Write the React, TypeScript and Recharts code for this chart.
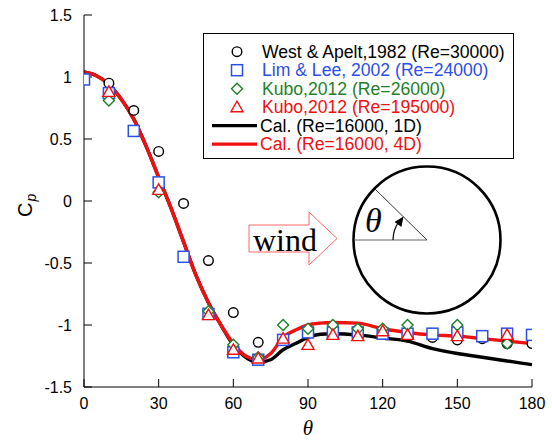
import { ComposedChart, Line, Scatter, XAxis, YAxis, Legend, Customized } from 'recharts';

// axis ticks
const xTicks = [0, 30, 60, 90, 120, 150, 180];
const yTicks = [-1.5, -1, -0.5, 0, 0.5, 1, 1.5];

// West & Apelt, 1982 (Re=30000)
const westAngle = [10, 20, 30, 40, 50, 60, 70, 80, 90, 100, 110, 120, 130, 140, 150, 160, 170, 180];
const westCp = [0.95, 0.73, 0.4, -0.02, -0.48, -0.9, -1.14, -1.12, -1.06, -1.05, -1.04, -1.07, -1.07, -1.1, -1.12, -1.11, -1.15, -1.15];

// Lim & Lee, 2002 (Re=24000)
const limAngle = [0, 10, 20, 30, 40, 50, 60, 70, 80, 90, 100, 110, 120, 130, 140, 150, 160, 170, 180];
const limCp = [0.98, 0.87, 0.565, 0.15, -0.45, -0.91, -1.22, -1.28, -1.12, -1.06, -1.06, -1.06, -1.07, -1.07, -1.07, -1.06, -1.09, -1.07, -1.08];

// Kubo, 2012 (Re=26000)
const kuboLowAngle = [10, 30, 50, 60, 70, 80, 90, 100, 110, 120, 130, 150, 170];
const kuboLowCp = [0.81, 0.07, -0.89, -1.16, -1.26, -1.0, -1.03, -1.0, -1.03, -1.03, -1.0, -1.0, -1.15];

// Kubo, 2012 (Re=195000)
const kuboHighAngle = [10, 30, 50, 60, 70, 80, 90, 100, 110, 120, 130, 150, 170];
const kuboHighCp = [0.88, 0.09, -0.92, -1.2, -1.27, -1.11, -1.16, -1.08, -1.09, -1.05, -1.08, -1.09, -1.08];

// calculations (Re=16000)
const calAngle = [0, 5, 10, 15, 20, 25, 30, 35, 40, 45, 50, 55, 60, 65, 70, 75, 80, 85, 90, 95, 100, 110, 120, 130, 140, 150, 160, 170, 180];
const cal1D = [1.04, 1.01, 0.94, 0.82, 0.66, 0.44, 0.19, -0.06, -0.33, -0.6, -0.82, -1.0, -1.16, -1.26, -1.3, -1.28, -1.2, -1.15, -1.1, -1.075, -1.07, -1.08, -1.105, -1.13, -1.19, -1.23, -1.26, -1.29, -1.32];
const cal4D = [1.04, 1.01, 0.94, 0.82, 0.66, 0.44, 0.19, -0.06, -0.33, -0.6, -0.82, -1.0, -1.15, -1.25, -1.28, -1.23, -1.1, -1.04, -1.0, -0.985, -0.98, -0.985, -1.03, -1.06, -1.08, -1.09, -1.11, -1.13, -1.15];

const toPoints = (xs: number[], ys: number[]) => xs.map((x, i) => ({ x, y: ys[i] }));

const BLUE = '#2a50ea';
const GREEN = '#1f7f2a';
const RED = '#f01010';
const FONT = '"Liberation Sans", Arial, sans-serif';
const SERIF = '"Liberation Serif", "Times New Roman", serif';

const circleShape = (p: any) => (
  <circle cx={p.cx} cy={p.cy} r={4.8} fill="#fff" stroke="#000" strokeWidth={1.4} />
);
const squareShape = (p: any) => (
  <rect x={p.cx - 5.5} y={p.cy - 5.5} width={11} height={11} fill="#fff" stroke={BLUE} strokeWidth={1.5} />
);
const diamondShape = (p: any) => (
  <path
    d={`M${p.cx},${p.cy - 5.5}L${p.cx + 5.5},${p.cy}L${p.cx},${p.cy + 5.5}L${p.cx - 5.5},${p.cy}Z`}
    fill="#fff"
    stroke={GREEN}
    strokeWidth={1.4}
  />
);
const triangleShape = (p: any) => (
  <path
    d={`M${p.cx},${p.cy - 6}L${p.cx + 6},${p.cy + 4.5}L${p.cx - 6},${p.cy + 4.5}Z`}
    fill="#fff"
    stroke={RED}
    strokeWidth={1.4}
  />
);

const legendRows = [
  { label: 'West & Apelt,1982 (Re=30000)', color: '#000', shape: circleShape },
  { label: 'Lim & Lee, 2002 (Re=24000)', color: BLUE, shape: squareShape },
  { label: 'Kubo,2012 (Re=26000)', color: GREEN, shape: diamondShape },
  { label: 'Kubo,2012 (Re=195000)', color: RED, shape: triangleShape },
  { label: 'Cal. (Re=16000, 1D)', color: '#000', shape: null },
  { label: 'Cal. (Re=16000, 4D)', color: RED, shape: null },
];

const renderLegend = () => (
  <svg width={311} height={126} style={{ display: 'block' }}>
    <rect x={0.5} y={0.5} width={310} height={125} fill="#fff" stroke="#000" strokeWidth={1} />
    {legendRows.map((r, i) => {
      const y = 18.7 + i * 18.5;
      return (
        <g key={r.label}>
          {r.shape ? (
            r.shape({ cx: 34, cy: y })
          ) : (
            <line x1={9} x2={54} y1={y} y2={y} stroke={r.color} strokeWidth={3.2} />
          )}
          <text x={r.shape ? 59 : 57} y={y} dy="0.35em" fontFamily={FONT} fontSize={17.6} fill={r.color}>
            {r.label}
          </text>
        </g>
      );
    })}
  </svg>
);

// cylinder sketch with wind arrow, axis titles
const Sketch = () => (
  <g>
    <path d="M249,225 H309 V212 L337,238.5 L309,265 V252 H249 Z" fill="#fff" stroke="#f66" strokeWidth={1} />
    <text x={253} y={251} fontFamily={SERIF} fontSize={32} fill="#000">wind</text>
    <circle cx={427} cy={240} r={73.5} fill="none" stroke="#000" strokeWidth={2.6} />
    <line x1={354} y1={240} x2={427} y2={240} stroke="#555" strokeWidth={0.9} />
    <line x1={375} y1={189} x2={427} y2={240} stroke="#222" strokeWidth={0.9} />
    <text x={365} y={232} fontFamily={SERIF} fontStyle="italic" fontSize={34} fill="#000">θ</text>
    <path d="M393,240 A34,34 0 0 1 398.5,222" fill="none" stroke="#000" strokeWidth={1.2} />
    <path d="M403.5,216.5 L401.4,226.9 L394.6,222.1 Z" fill="#000" />
    <text transform="translate(32,217) rotate(-90)" fontFamily={FONT} fontSize={20} fill="#000">
      C<tspan fontSize={14} fontStyle="italic" dx={1} dy={4}>p</tspan>
    </text>
    <text x={308} y={435} textAnchor="middle" fontFamily={SERIF} fontStyle="italic" fontSize={21} fill="#000">θ</text>
  </g>
);

export default function App() {
  const tickStyle = { fontFamily: FONT, fontSize: 16, fill: '#000' };
  return (
    <div style={{ position: 'absolute', left: 0, top: 0, background: '#fff' }}>
      <ComposedChart width={552} height={441} margin={{ top: 15, right: 20, bottom: 0, left: 0 }}>
        <XAxis
          xAxisId={0}
          dataKey="x"
          type="number"
          domain={[0, 180]}
          ticks={xTicks}
          interval={0}
          height={54}
          tickSize={-8}
          tickMargin={19}
          stroke="#000"
          tick={tickStyle}
          allowDataOverflow
        />
        <XAxis
          xAxisId="top"
          orientation="top"
          dataKey="x"
          type="number"
          domain={[0, 180]}
          ticks={xTicks}
          interval={0}
          height={0}
          tickSize={-8}
          tick={false}
          stroke="#000"
        />
        <YAxis
          yAxisId={0}
          dataKey="y"
          type="number"
          domain={[-1.5, 1.5]}
          ticks={yTicks}
          interval={0}
          width={84}
          tickSize={-8}
          tickMargin={20}
          stroke="#000"
          tick={tickStyle}
          allowDataOverflow
        />
        <YAxis
          yAxisId="right"
          orientation="right"
          dataKey="y"
          type="number"
          domain={[-1.5, 1.5]}
          ticks={yTicks}
          interval={0}
          width={0}
          tickSize={-8}
          tick={false}
          stroke="#000"
        />
        <Legend
          layout="vertical"
          align="center"
          verticalAlign="middle"
          wrapperStyle={{ left: 203, top: 33, width: 311, height: 126 }}
          content={renderLegend}
        />
        <Line
          data={toPoints(calAngle, cal1D)}
          dataKey="y"
          type="monotone"
          stroke="#000"
          strokeWidth={3.4}
          dot={false}
          isAnimationActive={false}
          name="Cal. (Re=16000, 1D)"
        />
        <Line
          data={toPoints(calAngle, cal4D)}
          dataKey="y"
          type="monotone"
          stroke={RED}
          strokeWidth={3.4}
          dot={false}
          isAnimationActive={false}
          name="Cal. (Re=16000, 4D)"
        />
        <Scatter data={toPoints(westAngle, westCp)} dataKey="y" shape={circleShape} isAnimationActive={false} />
        <Scatter data={toPoints(limAngle, limCp)} dataKey="y" shape={squareShape} isAnimationActive={false} />
        <Scatter data={toPoints(kuboLowAngle, kuboLowCp)} dataKey="y" shape={diamondShape} isAnimationActive={false} />
        <Scatter data={toPoints(kuboHighAngle, kuboHighCp)} dataKey="y" shape={triangleShape} isAnimationActive={false} />
        <Customized component={Sketch} />
      </ComposedChart>
    </div>
  );
}
